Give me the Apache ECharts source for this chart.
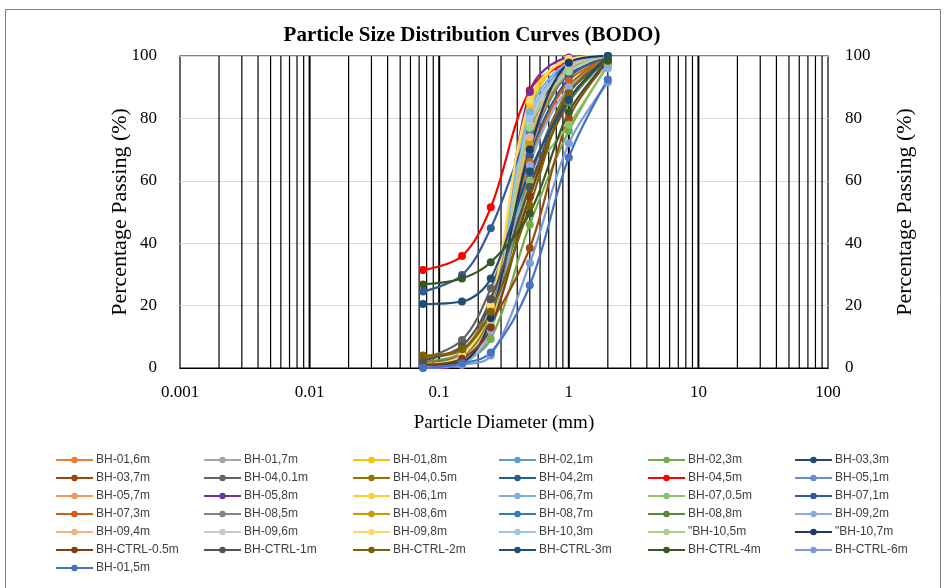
<!DOCTYPE html>
<html>
<head>
<meta charset="utf-8">
<script src="https://cdn.jsdelivr.net/npm/echarts@6/dist/echarts.min.js"></script>
<style>
  html, body { margin: 0; padding: 0; background: #fff; }
  #chart { width: 952px; height: 588px; }
</style>
</head>
<body>
<div id="chart"></div>
<script>
// Sieve sizes (mm) used for every sample
const sieveSizes = [0.075, 0.15, 0.25, 0.5, 1.0, 2.0];

// Percentage passing for each borehole sample
const bh01_6m   = [1.0, 3.0, 20.0, 75.0, 96.0, 100];
const bh01_7m   = [1.0, 3.0, 19.0, 78.0, 97.0, 100];
const bh01_8m   = [1.0, 3.0, 15.0, 83.0, 99.0, 100];
const bh02_1m   = [0.5, 2.0, 15.0, 80.0, 97.5, 100];
const bh02_3m   = [0.5, 2.0, 9.3, 46.0, 76.0, 97.0];
const bh03_3m   = [1.0, 2.0, 17.0, 72.0, 98.0, 100];
const bh03_7m   = [1.0, 3.0, 14.4, 38.5, 80.0, 98.0];
const bh04_01m  = [3.0, 9.0, 25.6, 61.0, 89.0, 99.0];
const bh04_05m  = [3.5, 5.8, 20.5, 55.0, 90.0, 99.5];
const bh04_2m   = [1.0, 3.0, 22.0, 68.0, 93.0, 100];
const bh04_5m   = [31.4, 35.9, 51.5, 89.0, 98.0, 100];
const bh05_1m   = [1.0, 2.5, 16.0, 70.0, 95.0, 100];
const bh05_7m   = [1.0, 3.0, 18.0, 74.0, 95.0, 100];
const bh05_8m   = [-0.5, 1.5, 12.0, 88.5, 99.5, 100];
const bh06_1m   = [1.0, 3.0, 18.0, 85.0, 99.0, 100];
const bh06_7m   = [0.5, 2.0, 14.0, 82.0, 98.0, 100];
const bh07_05m  = [1.0, 3.0, 12.0, 60.0, 78.0, 97.0];
const bh07_1m   = [24.5, 29.8, 44.8, 76.0, 94.0, 99.0];
const bh07_3m   = [1.0, 4.0, 19.0, 66.0, 92.0, 99.0];
const bh08_5m   = [2.0, 5.0, 20.0, 70.0, 95.0, 100];
const bh08_6m   = [2.0, 4.0, 19.0, 72.0, 96.0, 100];
const bh08_7m   = [1.0, 3.0, 17.0, 75.0, 96.0, 100];
const bh08_8m   = [2.0, 4.0, 16.0, 58.0, 85.0, 99.0];
const bh09_2m   = [0.5, 1.5, 12.0, 65.0, 90.0, 96.0];
const bh09_4m   = [1.0, 3.0, 16.0, 74.0, 96.0, 100];
const bh09_6m   = [1.0, 2.0, 15.0, 78.0, 97.0, 100];
const bh09_8m   = [1.0, 4.0, 20.0, 86.0, 99.0, 100];
const bh10_3m   = [0.5, 2.0, 13.0, 80.0, 97.0, 100];
const bh10_5m   = [1.0, 3.0, 14.0, 77.0, 95.0, 100];
const bh10_7m   = [1.0, 2.0, 16.0, 70.0, 97.8, 100];
const ctrl_05m  = [1.0, 3.0, 13.0, 55.0, 86.0, 99.0];
const ctrl_1m   = [2.5, 7.0, 22.0, 58.0, 88.0, 99.0];
const ctrl_2m   = [4.0, 6.0, 18.0, 52.0, 88.0, 99.0];
const ctrl_3m   = [20.5, 21.3, 28.7, 63.0, 86.0, 100];
const ctrl_4m   = [26.8, 28.7, 33.9, 49.6, 82.0, 98.5];
const ctrl_6m   = [0.0, 1.0, 4.0, 33.6, 72.0, 91.5];
const bh01_5m   = [0.0, 1.5, 5.0, 26.5, 67.5, 92.5];

// Legend order
const sampleNames = [
  'BH-01,6m', 'BH-01,7m', 'BH-01,8m', 'BH-02,1m', 'BH-02,3m', 'BH-03,3m',
  'BH-03,7m', 'BH-04,0.1m', 'BH-04,0.5m', 'BH-04,2m', 'BH-04,5m', 'BH-05,1m',
  'BH-05,7m', 'BH-05,8m', 'BH-06,1m', 'BH-06,7m', 'BH-07,0.5m', 'BH-07,1m',
  'BH-07,3m', 'BH-08,5m', 'BH-08,6m', 'BH-08,7m', 'BH-08,8m', 'BH-09,2m',
  'BH-09,4m', 'BH-09,6m', 'BH-09,8m', 'BH-10,3m', '"BH-10,5m', '"BH-10,7m',
  'BH-CTRL-0.5m', 'BH-CTRL-1m', 'BH-CTRL-2m', 'BH-CTRL-3m', 'BH-CTRL-4m', 'BH-CTRL-6m',
  'BH-01,5m'
];
const sampleValues = [
  bh01_6m, bh01_7m, bh01_8m, bh02_1m, bh02_3m, bh03_3m,
  bh03_7m, bh04_01m, bh04_05m, bh04_2m, bh04_5m, bh05_1m,
  bh05_7m, bh05_8m, bh06_1m, bh06_7m, bh07_05m, bh07_1m,
  bh07_3m, bh08_5m, bh08_6m, bh08_7m, bh08_8m, bh09_2m,
  bh09_4m, bh09_6m, bh09_8m, bh10_3m, bh10_5m, bh10_7m,
  ctrl_05m, ctrl_1m, ctrl_2m, ctrl_3m, ctrl_4m, ctrl_6m,
  bh01_5m
];
const sampleColors = [
  '#ED7D31', '#A5A5A5', '#FFC000', '#5B9BD5', '#70AD47', '#264478',
  '#9E480E', '#636363', '#997300', '#255E91', '#FF0000', '#698ED0',
  '#F1975A', '#7030A0', '#FFCD33', '#7CAFDD', '#8CC168', '#335AA1',
  '#D26012', '#848484', '#CC9A00', '#327DC2', '#5A8A39', '#8FAADC',
  '#F4B183', '#C9C9C9', '#FFD966', '#9DC3E6', '#A9D18E', '#203864',
  '#843C0C', '#525252', '#7F6000', '#1F4E79', '#385723', '#7B9BD8',
  '#4472C4'
];

// Log-scale grid positions (x axis)
const decadeLines = [0.01, 0.1, 1, 10];
const minorLines = [];
[0.001, 0.01, 0.1, 1, 10].forEach(function (d) {
  for (let k = 2; k <= 9; k++) minorLines.push(d * k);
});
const xTickLabels = ['0.001', '0.01', '0.1', '1', '10', '100'];

const serif = '"Liberation Serif", "Times New Roman", serif';
const sans = '"Liberation Sans", Arial, sans-serif';

const chart = echarts.init(document.getElementById('chart'), null, { renderer: 'canvas' });

function gridLineSeries(values, width) {
  return {
    type: 'custom',
    silent: true,
    z: 1,
    clip: true,
    data: values.map(function (v) { return [v, 0]; }),
    renderItem: function (params, api) {
      const v = api.value(0);
      const p0 = api.coord([v, 0]);
      const p1 = api.coord([v, 100]);
      return {
        type: 'line',
        shape: { x1: p0[0], y1: p0[1], x2: p1[0], y2: p1[1] },
        style: { stroke: '#000', lineWidth: width }
      };
    }
  };
}

const series = [gridLineSeries(minorLines, 1.2), gridLineSeries(decadeLines, 2)];

sampleNames.forEach(function (name, i) {
  series.push({
    name: name,
    type: 'line',
    smooth: 0.35,
    symbol: 'circle',
    symbolSize: 8,
    z: 3,
    lineStyle: { width: 2.2, color: sampleColors[i] },
    itemStyle: { color: sampleColors[i] },
    data: sieveSizes.map(function (s, j) { return [s, sampleValues[i][j]]; })
  });
});

// Legend laid out as six columns, filled row by row
const legends = [];
const colX = [55, 203, 352, 498, 647, 794];
for (let c = 0; c < 6; c++) {
  const items = sampleNames.filter(function (_, i) { return i % 6 === c; });
  legends.push({
    orient: 'vertical',
    left: colX[c],
    top: 453,
    itemWidth: 37,
    itemHeight: 8,
    itemGap: 4,
    padding: 0,
    selectedMode: false,
    textStyle: { fontFamily: sans, fontSize: 12, lineHeight: 14, color: '#404040', padding: [0, 0, 0, -2] },
    data: items
  });
}

chart.setOption({
  animation: false,
  backgroundColor: '#fff',
  title: {
    text: 'Particle Size Distribution Curves (BODO)',
    left: 467,
    textAlign: 'center',
    top: 20,
    textStyle: { fontFamily: serif, fontWeight: 'bold', fontSize: 21, color: '#000' }
  },
  legend: legends,
  grid: {
    left: 180, right: 124, top: 56, bottom: 220,
    show: true, borderColor: '#000', borderWidth: 1.2
  },
  xAxis: {
    type: 'log',
    logBase: 10,
    min: 0.001,
    max: 100,
    name: 'Particle Diameter (mm)',
    nameLocation: 'middle',
    nameGap: 46,
    nameTextStyle: { fontFamily: serif, fontSize: 19, color: '#000' },
    axisLine: { show: true, lineStyle: { color: '#000', width: 1.2 } },
    axisTick: { show: false },
    splitLine: { show: false },
    axisLabel: {
      margin: 16,
      fontFamily: serif, fontSize: 17, color: '#000',
      formatter: function (v) {
        const idx = Math.round(Math.log10(v)) + 3;
        return xTickLabels[idx] !== undefined ? xTickLabels[idx] : '';
      }
    }
  },
  yAxis: [
    {
      type: 'value', min: 0, max: 100, interval: 20,
      name: 'Percentage Passing (%)',
      nameLocation: 'middle', nameGap: 49, nameMoveOverlap: false,
      nameTextStyle: { fontFamily: serif, fontSize: 22, color: '#000' },
      axisLine: { show: false },
      axisTick: { show: false },
      axisLabel: { margin: 23, fontFamily: serif, fontSize: 17, color: '#000' },
      splitLine: { show: true, lineStyle: { color: '#D9D9D9', width: 1 } }
    },
    {
      type: 'value', min: 0, max: 100, interval: 20, position: 'right',
      name: 'Percentage Passing (%)',
      nameLocation: 'middle', nameGap: 66, nameRotate: 90, nameMoveOverlap: false,
      nameTextStyle: { fontFamily: serif, fontSize: 22, color: '#000' },
      axisLine: { show: false },
      axisTick: { show: false },
      axisLabel: { margin: 17, fontFamily: serif, fontSize: 17, color: '#000' },
      splitLine: { show: false }
    }
  ],
  graphic: [
    {
      type: 'rect',
      shape: { x: 5.5, y: 9.5, width: 935, height: 585 },
      style: { fill: 'none', stroke: '#7f7f7f', lineWidth: 1 },
      silent: true, z: -1
    }
  ],
  series: series
});
</script>
</body>
</html>
